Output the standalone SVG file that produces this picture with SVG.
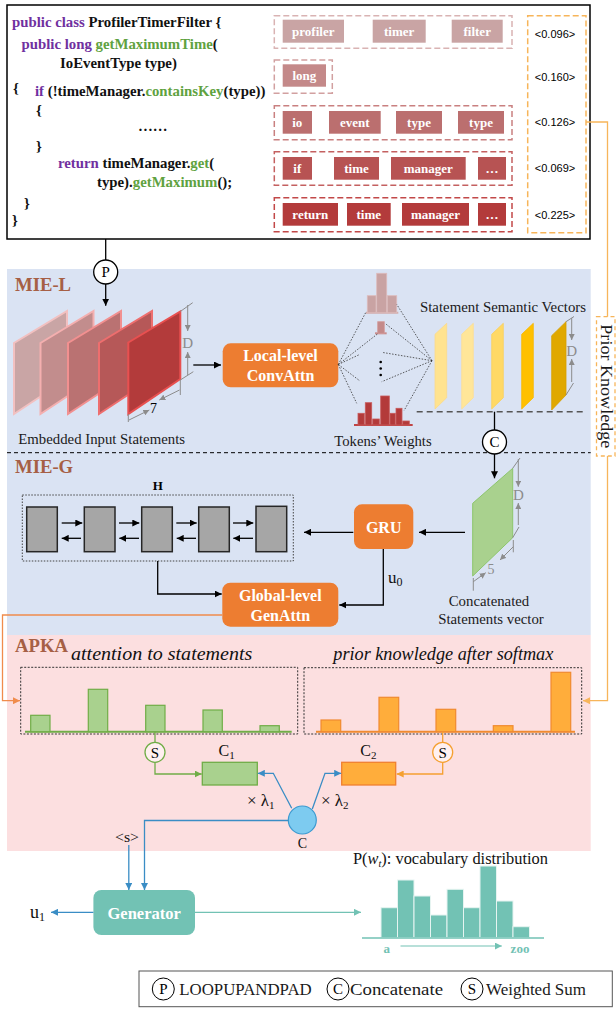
<svg xmlns="http://www.w3.org/2000/svg" width="616" height="1015" viewBox="0 0 616 1015">
<defs>
<style>
.code{font-family:"Liberation Serif","Times New Roman",serif;font-weight:bold;font-size:14.8px;fill:#111}
.kw{fill:#7030A0}
.fn{fill:#5FA23F}
.tok{font-family:"Liberation Serif","Times New Roman",serif;font-weight:bold;font-size:13px;fill:#fff;text-anchor:middle}
.val{font-family:"Liberation Sans",Arial,sans-serif;font-size:11px;fill:#000;text-anchor:middle}
.lbl{font-family:"Liberation Serif","Times New Roman",serif;font-size:14.8px;fill:#1a1a1a}
.sec{font-family:"Liberation Serif","Times New Roman",serif;font-size:18.7px;font-weight:bold;fill:#A65F45}
.btn{font-family:"Liberation Serif","Times New Roman",serif;font-size:16px;font-weight:bold;fill:#fff;text-anchor:middle}
.it{font-family:"Liberation Serif","Times New Roman",serif;font-style:italic;font-size:18.5px;fill:#111}
.dim{stroke:#8c8c8c;stroke-width:1;fill:none}
.dimt{font-family:"Liberation Serif","Times New Roman",serif;font-size:15px;fill:#8c8c8c;text-anchor:middle}
.fan{stroke:#333;stroke-width:0.8;stroke-dasharray:1.5 1.5;fill:none}
.k{stroke:#000;stroke-width:1.3;fill:none}
.blue{stroke:#3A8DC5;stroke-width:1.3;fill:none}
.teal{stroke:#72C2B4;stroke-width:1.2;fill:none}
.grn{stroke:#70AD47;stroke-width:1.3;fill:none}
.org{stroke:#F5A030;stroke-width:1.3;fill:none}
.lorg{stroke:#F7B55A;stroke-width:1.3;fill:none}
.dorg{stroke:#F08C4C;stroke-width:1.3;fill:none}
.gbox{fill:#A6A6A6;stroke:#262626;stroke-width:1.5}
.circ{fill:#fff;stroke:#000;stroke-width:1.3}
.ct{font-family:"Liberation Serif","Times New Roman",serif;font-size:15px;fill:#000;text-anchor:middle}
.cam{font-family:"Liberation Serif","Times New Roman",serif;font-size:16px;fill:#111}
</style>
<marker id="ak" viewBox="0 0 10 10" refX="10" refY="5" markerWidth="7" markerHeight="7" markerUnits="userSpaceOnUse" orient="auto"><path d="M0,0 L10,5 L0,10 z" fill="#000"/></marker>
<marker id="ab" viewBox="0 0 10 10" refX="10" refY="5" markerWidth="7" markerHeight="7" markerUnits="userSpaceOnUse" orient="auto"><path d="M0,0 L10,5 L0,10 z" fill="#3A8DC5"/></marker>
<marker id="at" viewBox="0 0 10 10" refX="10" refY="5" markerWidth="7" markerHeight="7" markerUnits="userSpaceOnUse" orient="auto"><path d="M0,0 L10,5 L0,10 z" fill="#72C2B4"/></marker>
<marker id="ag" viewBox="0 0 10 10" refX="10" refY="5" markerWidth="7" markerHeight="7" markerUnits="userSpaceOnUse" orient="auto"><path d="M0,0 L10,5 L0,10 z" fill="#70AD47"/></marker>
<marker id="ao" viewBox="0 0 10 10" refX="10" refY="5" markerWidth="7" markerHeight="7" markerUnits="userSpaceOnUse" orient="auto"><path d="M0,0 L10,5 L0,10 z" fill="#F5A030"/></marker>
<marker id="alo" viewBox="0 0 10 10" refX="10" refY="5" markerWidth="7" markerHeight="7" markerUnits="userSpaceOnUse" orient="auto"><path d="M0,0 L10,5 L0,10 z" fill="#F7B55A"/></marker>
<marker id="ado" viewBox="0 0 10 10" refX="10" refY="5" markerWidth="7" markerHeight="7" markerUnits="userSpaceOnUse" orient="auto"><path d="M0,0 L10,5 L0,10 z" fill="#F08C4C"/></marker>
<marker id="agr" viewBox="0 0 10 10" refX="10" refY="5" markerWidth="6" markerHeight="6" markerUnits="userSpaceOnUse" orient="auto"><path d="M0,0 L10,5 L0,10 z" fill="#8c8c8c"/></marker>
</defs>
<rect x="0" y="0" width="616" height="1015" fill="#fff"/>

<!-- backgrounds -->
<g id="backgrounds">
<rect x="7" y="269" width="583.7" height="366" fill="#DAE3F3"/>
<rect x="7" y="635" width="583.7" height="216" fill="#FCDFE0"/>
<line x1="7" y1="452.7" x2="590.7" y2="452.7" stroke="#000" stroke-width="1" stroke-dasharray="4 3"/>
<text class="sec" x="15" y="291">MIE-L</text>
<text class="sec" x="15" y="472.5">MIE-G</text>
<text class="sec" x="15" y="651.5">APKA</text>
</g>

<!-- code block -->
<g id="code">
<rect x="7" y="5" width="583" height="234" fill="#fff" stroke="#000" stroke-width="1.5"/>
<text class="code" x="12" y="27"><tspan class="kw">public class </tspan><tspan>ProfilerTimerFilter {</tspan></text>
<text class="code" x="21.5" y="49"><tspan class="kw">public long </tspan><tspan class="fn">getMaximumTime</tspan><tspan>(</tspan></text>
<text class="code" x="60" y="68">IoEventType type)</text>
<text class="code" x="13" y="93">{</text>
<text class="code" x="35" y="96"><tspan class="kw">if </tspan><tspan>(!timeManager.</tspan><tspan class="fn">containsKey</tspan><tspan>(type))</tspan></text>
<text class="code" x="36" y="115">{</text>
<text class="code" x="138" y="131">……</text>
<text class="code" x="36" y="151">}</text>
<text class="code" x="58" y="168"><tspan class="kw">return </tspan><tspan>timeManager.</tspan><tspan class="fn">get</tspan><tspan>(</tspan></text>
<text class="code" x="97" y="187"><tspan>type).</tspan><tspan class="fn">getMaximum</tspan><tspan>();</tspan></text>
<text class="code" x="24" y="208">}</text>
<text class="code" x="12" y="225">}</text>
</g>

<!-- token rows -->
<g id="tokens-row1">
<rect x="274.3" y="15.7" width="237.7" height="32.6" fill="none" stroke="#D9B3B3" stroke-width="1.5" stroke-dasharray="6 3"/>
<rect x="282.7" y="19.7" width="61.3" height="23" fill="#C9A4A4"/><text class="tok" x="313.3" y="35.5">profiler</text>
<rect x="372.7" y="19.7" width="53" height="23" fill="#C9A4A4"/><text class="tok" x="399.2" y="35.5">timer</text>
<rect x="451.7" y="19.7" width="51" height="23" fill="#C9A4A4"/><text class="tok" x="477.2" y="35.5">filter</text>
</g>
<g id="tokens-row2">
<rect x="274.3" y="60" width="58" height="33.3" fill="none" stroke="#D2A0A0" stroke-width="1.5" stroke-dasharray="6 3"/>
<rect x="282.7" y="64.3" width="43.3" height="22.4" fill="#C48989"/><text class="tok" x="304.3" y="80">long</text>
</g>
<g id="tokens-row3">
<rect x="274.3" y="105.7" width="237.7" height="34" fill="none" stroke="#C98080" stroke-width="1.5" stroke-dasharray="6 3"/>
<rect x="282.7" y="111" width="29.3" height="22.7" fill="#BB6F6F"/><text class="tok" x="297.3" y="126.8">io</text>
<rect x="329" y="111" width="51.7" height="22.7" fill="#BB6F6F"/><text class="tok" x="354.8" y="126.8">event</text>
<rect x="396" y="111" width="46" height="22.7" fill="#BB6F6F"/><text class="tok" x="419" y="126.8">type</text>
<rect x="458" y="111" width="46" height="22.7" fill="#BB6F6F"/><text class="tok" x="481" y="126.8">type</text>
</g>
<g id="tokens-row4">
<rect x="274.3" y="151.7" width="237.7" height="33.6" fill="none" stroke="#C46060" stroke-width="1.5" stroke-dasharray="6 3"/>
<rect x="282.7" y="157" width="29.3" height="22.7" fill="#B75353"/><text class="tok" x="297.3" y="172.8">if</text>
<rect x="334" y="157" width="45" height="22.7" fill="#B75353"/><text class="tok" x="356.5" y="172.8">time</text>
<rect x="391" y="157" width="74.7" height="22.7" fill="#B75353"/><text class="tok" x="428.3" y="172.8">manager</text>
<rect x="478" y="157" width="28" height="22.7" fill="#B75353"/><text class="tok" x="492" y="172.8">…</text>
</g>
<g id="tokens-row5">
<rect x="274.3" y="197.7" width="237.7" height="34" fill="none" stroke="#C24848" stroke-width="1.5" stroke-dasharray="6 3"/>
<rect x="282.7" y="203" width="55.3" height="22.7" fill="#B33B3B"/><text class="tok" x="310.3" y="218.8">return</text>
<rect x="347" y="203" width="43.7" height="22.7" fill="#B33B3B"/><text class="tok" x="368.8" y="218.8">time</text>
<rect x="402" y="203" width="67" height="22.7" fill="#B33B3B"/><text class="tok" x="435.5" y="218.8">manager</text>
<rect x="478" y="203" width="28" height="22.7" fill="#B33B3B"/><text class="tok" x="492" y="218.8">…</text>
</g>
<g id="prior-values">
<rect x="527.7" y="15.7" width="58.3" height="217" fill="none" stroke="#F7B55A" stroke-width="1.5" stroke-dasharray="6 3"/>
<text class="val" x="555" y="38.3">&lt;0.096&gt;</text>
<text class="val" x="555" y="80.7">&lt;0.160&gt;</text>
<text class="val" x="555" y="126.3">&lt;0.126&gt;</text>
<text class="val" x="555" y="172.3">&lt;0.069&gt;</text>
<text class="val" x="555" y="219">&lt;0.225&gt;</text>
</g>

<!-- P circle -->
<g id="P-op">
<circle class="circ" cx="105.7" cy="272" r="12"/>
<text class="ct" x="105.7" y="277.3">P</text>
</g>

<!-- Embedded input statements -->
<g id="embedded-statements">
<polygon points="14,343 67,311 67,379 14,414" fill="#C9A5A5" stroke="#F2C0C0" stroke-width="2"/>
<polygon points="40.5,343 93.5,311 93.5,379 40.5,414" fill="#C28D8D" stroke="#F4AFAF" stroke-width="2"/>
<polygon points="68,343 121,311 121,379 68,414" fill="#BA7272" stroke="#F29090" stroke-width="2"/>
<polygon points="99,343 152,311 152,379 99,414" fill="#B65858" stroke="#EE6E6E" stroke-width="2"/>
<polygon points="128.3,342.5 180.3,311.5 180.3,379 128.3,414" fill="#B33B3B" stroke="#E85050" stroke-width="2"/>
<path class="dim" d="M180.3,311.5 L192.7,302.7 M180.3,380 L193.3,371.7"/>
<line class="dim" x1="187.7" y1="305" x2="187.7" y2="331" marker-end="url(#agr)"/>
<line class="dim" x1="187.7" y1="375" x2="187.7" y2="352" marker-end="url(#agr)"/>
<text class="dimt" x="187.7" y="347.5">D</text>
<path class="dim" d="M180.3,380 L180.3,395 M128.3,414 L128.3,422"/>
<line class="dim" x1="179.5" y1="390" x2="159.3" y2="400" marker-end="url(#agr)"/>
<line class="dim" x1="129" y1="420" x2="149.3" y2="410" marker-end="url(#agr)"/>
<text class="ct" x="153.5" y="413" style="font-size:14px">7</text>
<text class="lbl" x="18.3" y="443.5" textLength="166.7" lengthAdjust="spacingAndGlyphs">Embedded Input Statements</text>
</g>

<g id="local-convattn">
<rect x="222.7" y="343.3" width="115.6" height="44" rx="8" fill="#ED7D31"/>
<text class="btn" x="280.5" y="361">Local-level</text>
<text class="btn" x="280.5" y="380.5">ConvAttn</text>
</g>

<g id="tokens-weights">
<line x1="366" y1="312.7" x2="398.3" y2="312.7" stroke="#D2AEAE" stroke-width="2"/>
<rect x="367.3" y="295.7" width="8.7" height="17" fill="#C9A3A3" stroke="#DDBBBB" stroke-width="0.8"/>
<rect x="376.7" y="273.3" width="10" height="39.4" fill="#C9A3A3" stroke="#DDBBBB" stroke-width="0.8"/>
<rect x="387.3" y="295.7" width="9.4" height="17" fill="#C9A3A3" stroke="#DDBBBB" stroke-width="0.8"/>
<line x1="375" y1="333.3" x2="386.7" y2="333.3" stroke="#C88E8E" stroke-width="2"/>
<rect x="377.7" y="321.7" width="6.6" height="11.6" fill="#C48A8A" stroke="#D49C9C" stroke-width="0.8"/>
<circle cx="380.7" cy="362" r="1.3" fill="#000"/>
<circle cx="380.7" cy="368.5" r="1.3" fill="#000"/>
<circle cx="380.7" cy="375" r="1.3" fill="#000"/>
<line x1="354" y1="425" x2="412.7" y2="425" stroke="#C04545" stroke-width="2"/>
<g fill="#B33A3A" stroke="#C85A5A" stroke-width="0.8">
<rect x="358" y="413.3" width="6.3" height="11.7"/>
<rect x="365.3" y="402.7" width="6.4" height="22.3"/>
<rect x="372.7" y="419" width="6.6" height="6"/>
<rect x="380.7" y="396" width="8.6" height="29"/>
<rect x="390" y="413.3" width="5.3" height="11.7"/>
<rect x="396" y="408.3" width="6" height="16.7"/>
<rect x="402.7" y="421" width="6.6" height="4"/>
</g>
<text class="lbl" x="334.3" y="445.5" textLength="97.4" lengthAdjust="spacingAndGlyphs">Tokens’ Weights</text>
</g>

<g id="statement-vectors">
<text class="lbl" x="420" y="311.5" textLength="166" lengthAdjust="spacingAndGlyphs">Statement Semantic Vectors</text>
<polygon points="435,334.3 446.7,323.3 446.7,397.7 435,409" fill="#FFE38F" stroke="#FBD98A" stroke-width="0.8"/>
<polygon points="461.7,334.3 473.3,323.3 473.3,397.7 461.7,409" fill="#FFE699" stroke="#FBDE94" stroke-width="0.8"/>
<polygon points="491.7,334.3 503.3,323.3 503.3,397.7 491.7,409" fill="#FFD966" stroke="#F8CF60" stroke-width="0.8"/>
<polygon points="521.7,334.3 533.3,323.3 533.3,397.7 521.7,409" fill="#FFC000" stroke="#F5B800" stroke-width="0.8"/>
<polygon points="551.7,335.7 566,321.7 566,395 551.7,410" fill="#E0A800" stroke="#D49E00" stroke-width="0.8"/>
<path class="dim" d="M566,321.7 L574,316.5 M566,395 L573.5,383"/>
<line class="dim" x1="571.7" y1="318" x2="571.7" y2="340" marker-end="url(#agr)"/>
<line class="dim" x1="571.7" y1="382" x2="571.7" y2="359" marker-end="url(#agr)"/>
<text class="dimt" x="571.7" y="355.5">D</text>
<line x1="416.7" y1="411.7" x2="586.7" y2="411.7" stroke="#555" stroke-width="1.5" stroke-dasharray="6 4"/>
</g>

<g id="C-op">
<circle class="circ" cx="494.5" cy="442" r="12"/>
<text class="ct" x="494.5" y="447.3">C</text>
</g>

<g id="concat-vector">
<polygon points="472.7,503.3 512.7,468.3 512.7,537.7 472.7,576" fill="#A9D18E" stroke="#8DC56C" stroke-width="1"/>
<path class="dim" d="M512.7,468.3 L520,458 M512.7,537.7 L519,527 M513.3,540 L513.3,552.3 M473.3,578 L473.3,590.7"/>
<line class="dim" x1="518.3" y1="459" x2="518.3" y2="486.7" marker-end="url(#agr)"/>
<line class="dim" x1="518.3" y1="525" x2="518.3" y2="503" marker-end="url(#agr)"/>
<text class="dimt" x="518.3" y="500">D</text>
<line class="dim" x1="513.3" y1="546.7" x2="500" y2="560" marker-end="url(#agr)"/>
<line class="dim" x1="473.3" y1="581.7" x2="485.7" y2="572.7" marker-end="url(#agr)"/>
<text class="dimt" x="491" y="574" style="font-size:14px">5</text>
<text class="lbl" x="489" y="606" text-anchor="middle">Concatenated</text>
<text class="lbl" x="491" y="624" text-anchor="middle">Statements vector</text>
</g>

<g id="GRU">
<rect x="354" y="504.3" width="59.3" height="44.7" rx="8" fill="#ED7D31"/>
<text class="btn" x="383.7" y="532.5">GRU</text>
</g>

<g id="H">
<rect x="22.3" y="495" width="271" height="66" fill="none" stroke="#444" stroke-width="1" stroke-dasharray="1.5 1.5"/>
<text class="ct" x="157.7" y="490" style="font-weight:bold;font-size:13px">H</text>
<rect class="gbox" x="26.7" y="507" width="30.6" height="44.7"/>
<rect class="gbox" x="84.3" y="507" width="30.7" height="44.7"/>
<rect class="gbox" x="141.7" y="507" width="30.6" height="44.7"/>
<rect class="gbox" x="198.7" y="507" width="30.6" height="44.7"/>
<rect class="gbox" x="256" y="506.3" width="30.7" height="45.4"/>
</g>

<g id="global-genattn">
<rect x="222.3" y="582.7" width="116" height="44" rx="8" fill="#ED7D31"/>
<text class="btn" x="280.3" y="601">Global-level</text>
<text class="btn" x="280.3" y="620.5">GenAttn</text>
</g>

<g id="prior-knowledge">
<rect x="596.5" y="316.7" width="18.5" height="139.3" fill="#fff" stroke="#F7B55A" stroke-width="1.3" stroke-dasharray="4 3"/>
<text class="lbl" transform="translate(601,386.3) rotate(90)" text-anchor="middle" style="font-size:17px" textLength="124" lengthAdjust="spacingAndGlyphs">Prior Knowledge</text>
</g>

<!-- APKA -->
<g id="attention-hist">
<text class="it" x="71" y="660" textLength="181.3" lengthAdjust="spacingAndGlyphs">attention to statements</text>
<rect x="20.7" y="667.3" width="277" height="66.7" fill="none" stroke="#333" stroke-width="1" stroke-dasharray="2 1.5"/>
<line x1="25" y1="731.7" x2="291.7" y2="731.7" stroke="#70AD47" stroke-width="2"/>
<g fill="#A9D18E" stroke="#70AD47" stroke-width="1.2">
<rect x="30.7" y="715.3" width="19.3" height="16.4"/>
<rect x="88.3" y="689.3" width="19.4" height="42.4"/>
<rect x="145.7" y="705.3" width="19.3" height="26.4"/>
<rect x="203" y="710" width="19.3" height="21.7"/>
<rect x="260" y="725.7" width="19.3" height="6"/>
</g>
</g>
<g id="prior-hist">
<text class="it" x="333.3" y="660" textLength="220" lengthAdjust="spacingAndGlyphs">prior knowledge after softmax</text>
<rect x="304" y="667.7" width="277.7" height="66.3" fill="none" stroke="#333" stroke-width="1" stroke-dasharray="2 1.5"/>
<line x1="316" y1="731.7" x2="575" y2="731.7" stroke="#F08A30" stroke-width="2"/>
<g fill="#FFAD3B" stroke="#F08A30" stroke-width="1.2">
<rect x="321" y="720" width="19.7" height="11.7"/>
<rect x="379" y="697.3" width="19.7" height="34.4"/>
<rect x="436" y="709.3" width="19.7" height="22.4"/>
<rect x="493.3" y="725.7" width="19.7" height="6"/>
<rect x="551" y="672.3" width="19.7" height="59.4"/>
</g>
</g>
<g id="S-left">
<circle cx="155" cy="752.3" r="10" fill="#FFF0F0" stroke="#70AD47" stroke-width="1.3"/>
<text class="ct" x="155" y="757.5">S</text>
</g>
<g id="S-right">
<circle cx="442.7" cy="752.3" r="10" fill="#FFF0F0" stroke="#F5A030" stroke-width="1.3"/>
<text class="ct" x="442.7" y="757.5">S</text>
</g>
<g id="C1">
<rect x="202.3" y="762.3" width="55" height="22.7" fill="#A9D18E" stroke="#70AD47" stroke-width="1.3"/>
<text class="cam" x="226.7" y="756" text-anchor="middle">C<tspan font-size="11" dy="3">1</tspan></text>
</g>
<g id="C2">
<rect x="341.7" y="762.3" width="54" height="22.7" fill="#FFAD3B" stroke="#F08030" stroke-width="1.3"/>
<text class="cam" x="368.3" y="756" text-anchor="middle">C<tspan font-size="11" dy="3">2</tspan></text>
</g>
<g id="C-circle">
<circle cx="302.3" cy="820" r="14" fill="#7DCBF0" stroke="#3C9AD0" stroke-width="1.2"/>
<text class="cam" x="302.3" y="848" text-anchor="middle" style="font-size:14px">C</text>
</g>
<g id="lambda-labels">
<text class="cam" x="247" y="806" style="font-size:17px">× λ<tspan font-size="11" dy="3">1</tspan></text>
<text class="cam" x="321" y="806" style="font-size:17px">× λ<tspan font-size="11" dy="3">2</tspan></text>
</g>

<!-- Generator -->
<g id="generator">
<rect x="93.4" y="890" width="101.6" height="45" rx="8" fill="#72C2B4"/>
<text class="btn" x="144.2" y="918.5" style="font-size:16.5px">Generator</text>
</g>
<g id="s-token"><text class="cam" x="127" y="841.5" text-anchor="middle" style="font-size:14px" textLength="24" lengthAdjust="spacingAndGlyphs">&lt;s&gt;</text></g>
<g id="u1"><text class="cam" x="30" y="918" style="font-size:18px">u<tspan font-size="12" dy="3">1</tspan></text></g>
<g id="vocab-dist">
<text class="cam" x="353" y="864" textLength="195" lengthAdjust="spacingAndGlyphs" style="font-size:16px">P(<tspan font-style="italic">w</tspan><tspan font-style="italic" font-size="10" dy="3">t</tspan><tspan dy="-3">): vocabulary distribution</tspan></text>
<g fill="#72C2B4" stroke="#E6F4F1" stroke-width="1">
<rect x="381" y="907.7" width="16.5" height="30"/>
<rect x="397.5" y="880" width="16.5" height="57.7"/>
<rect x="414" y="896" width="16.5" height="41.7"/>
<rect x="430.5" y="915" width="16.5" height="22.7"/>
<rect x="447" y="889.3" width="16.5" height="48.4"/>
<rect x="463.5" y="907.7" width="16.5" height="30"/>
<rect x="480" y="866" width="16.5" height="71.7"/>
<rect x="496.5" y="901" width="16.5" height="36.7"/>
<rect x="513" y="926.7" width="16.5" height="11"/>
</g>
<line x1="362" y1="938" x2="544" y2="938" stroke="#72C2B4" stroke-width="1.5"/>
<text x="386.7" y="953" style="font-family:'Liberation Serif',serif;font-weight:bold;font-size:13px;fill:#72C2B4" text-anchor="middle">a</text>
<text x="520" y="953" style="font-family:'Liberation Serif',serif;font-weight:bold;font-size:13px;fill:#72C2B4" text-anchor="middle">zoo</text>
<line class="teal" x1="400.5" y1="946" x2="501.8" y2="946" marker-end="url(#at)"/>
</g>

<!-- connectors -->
<g id="connectors">
<line class="k" x1="105.7" y1="239" x2="105.7" y2="260"/>
<line class="k" x1="105.7" y1="284" x2="105.7" y2="305.7" marker-end="url(#ak)"/>
<line class="k" x1="193.3" y1="365" x2="221" y2="365" marker-end="url(#ak)"/>
<path class="fan" d="M338.3,364.5 L366,312 M338.3,364.5 L378.3,333.3 M338.3,364.5 L360,354.3 M338.3,364.5 L360,381 M338.3,364.5 L356.7,403.3"/>
<path class="fan" d="M432,360.7 L396.7,304.3 M432,360.7 L385,323.3 M432,360.7 L381.7,352.3 M432,360.7 L381.7,381.7 M432,360.7 L404,410.7"/>
<line class="k" x1="494.5" y1="411.7" x2="494.5" y2="430"/>
<line class="k" x1="494.5" y1="454" x2="494.5" y2="478.3" marker-end="url(#ak)"/>
<line class="k" x1="465" y1="532.3" x2="419" y2="532.3" marker-end="url(#ak)"/>
<line class="k" x1="353.3" y1="532.3" x2="304" y2="532.3" marker-end="url(#ak)"/>
<line class="k" x1="61.7" y1="523" x2="82.3" y2="523" marker-end="url(#ak)"/>
<line class="k" x1="81" y1="538.3" x2="61.7" y2="538.3" marker-end="url(#ak)"/>
<line class="k" x1="119" y1="523" x2="139.3" y2="523" marker-end="url(#ak)"/>
<line class="k" x1="139" y1="538.3" x2="119.3" y2="538.3" marker-end="url(#ak)"/>
<line class="k" x1="176.3" y1="523" x2="196.7" y2="523" marker-end="url(#ak)"/>
<line class="k" x1="196" y1="538.3" x2="176.7" y2="538.3" marker-end="url(#ak)"/>
<line class="k" x1="233" y1="523" x2="253.3" y2="523" marker-end="url(#ak)"/>
<line class="k" x1="253" y1="538.3" x2="233.3" y2="538.3" marker-end="url(#ak)"/>
<path class="k" d="M157.7,561 L157.7,594 L221.7,594" marker-end="url(#ak)"/>
<path class="k" d="M383.3,549 L383.3,605 L339.3,605" marker-end="url(#ak)"/>
<text class="cam" x="388" y="583" style="font-size:17px">u<tspan font-size="12" dy="3">0</tspan></text>
<path class="dorg" d="M222.3,615 L2.5,615 L2.5,700.7 L20,700.7" marker-end="url(#ado)"/>
<path class="lorg" d="M586,122 L607.5,122 L607.5,316.7"/>
<path class="lorg" d="M607.5,456 L607.5,700.7 L583,700.7" marker-end="url(#alo)"/>
<line class="grn" x1="155" y1="731.7" x2="155" y2="742.3"/>
<path class="grn" d="M155,762.3 L155,774 L201.7,774" marker-end="url(#ag)"/>
<line class="org" x1="442.7" y1="731.7" x2="442.7" y2="742.3"/>
<path class="org" d="M442.7,762.3 L442.7,774 L396.7,774" marker-end="url(#ao)"/>
<path class="blue" d="M291.7,808.3 L273.3,773.3 L257.8,773.3" marker-end="url(#ab)"/>
<path class="blue" d="M312.3,809 L325,773.3 L341.2,773.3" marker-end="url(#ab)"/>
<path class="blue" d="M288.3,820.5 L144.5,820.5 L144.5,890" marker-end="url(#ab)"/>
<line class="blue" x1="128.8" y1="845" x2="128.8" y2="890" marker-end="url(#ab)"/>
<line class="blue" x1="93.4" y1="912.3" x2="51" y2="912.3" marker-end="url(#ab)"/>
<line class="teal" x1="195" y1="912.3" x2="361" y2="912.3" marker-end="url(#at)"/>
</g>

<!-- legend -->
<g id="legend">
<rect x="139" y="971" width="473.3" height="35.7" fill="#fff" stroke="#555" stroke-width="1"/>
<circle class="circ" cx="163.3" cy="989" r="11" style="stroke-width:1"/>
<text class="ct" x="163.3" y="994.3">P</text>
<text class="lbl" x="179.3" y="995" style="font-size:17px" textLength="132.4" lengthAdjust="spacingAndGlyphs">LOOPUPANDPAD</text>
<circle class="circ" cx="338" cy="989" r="11" style="stroke-width:1"/>
<text class="ct" x="338" y="994.3">C</text>
<text class="lbl" x="350" y="995" style="font-size:17px" textLength="93" lengthAdjust="spacingAndGlyphs">Concatenate</text>
<circle class="circ" cx="472" cy="989" r="11" style="stroke-width:1"/>
<text class="ct" x="472" y="994.3">S</text>
<text class="lbl" x="486" y="995" style="font-size:17px" textLength="100" lengthAdjust="spacingAndGlyphs">Weighted Sum</text>
</g>
</svg>
